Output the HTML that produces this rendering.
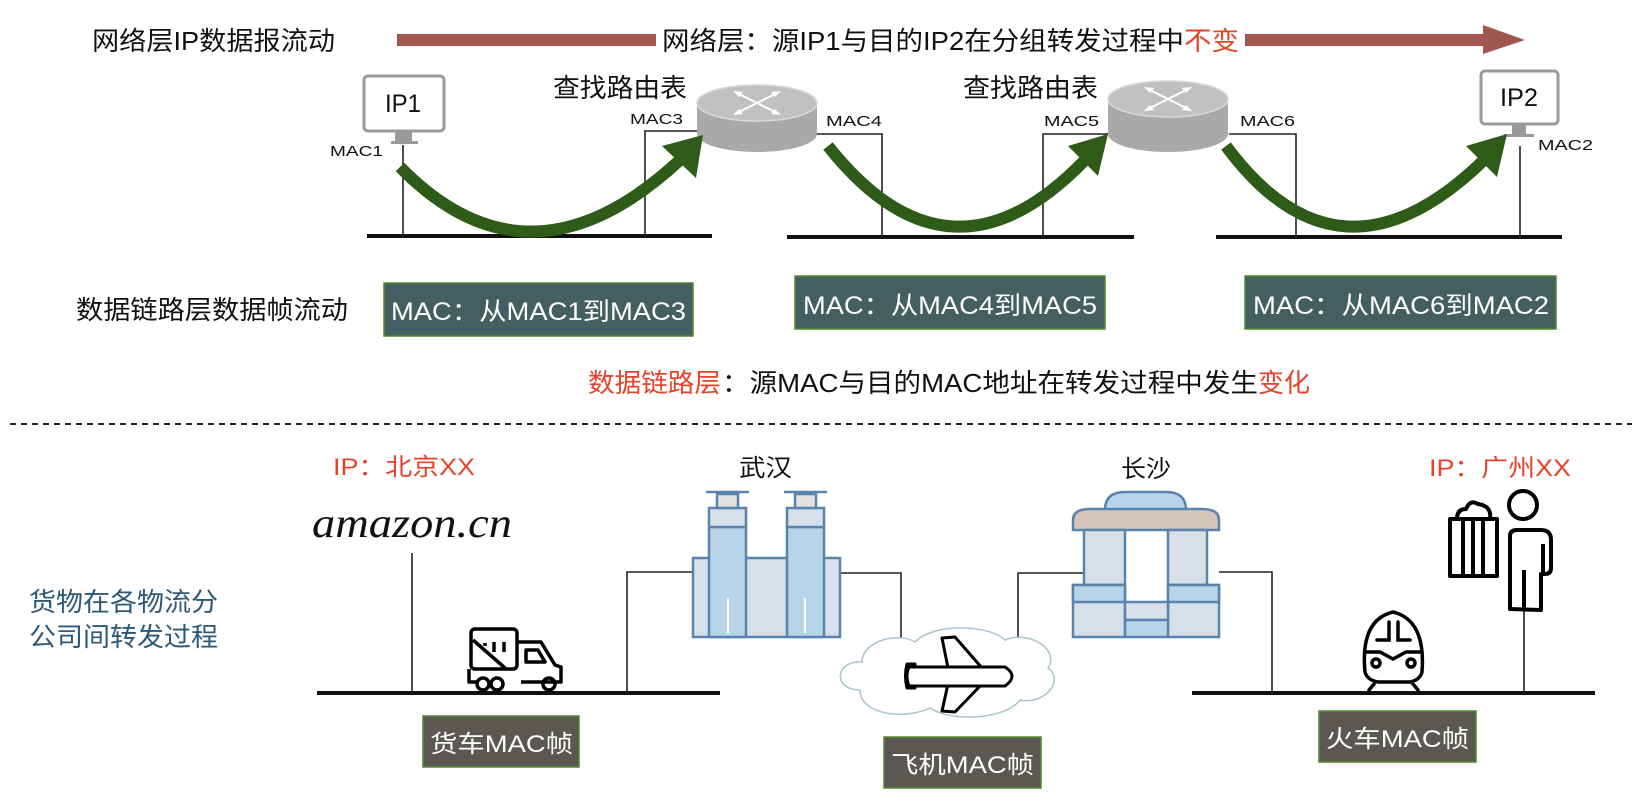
<!DOCTYPE html>
<html><head><meta charset="utf-8"><style>
html,body{margin:0;padding:0;background:#fff;}
svg{display:block;}
text{font-family:"Liberation Sans","Noto Sans CJK SC",sans-serif;}
</style></head><body>
<svg width="1638" height="808" viewBox="0 0 1638 808" xmlns="http://www.w3.org/2000/svg">
<!-- top title -->
<text x="92" y="50" font-size="26" textLength="243" lengthAdjust="spacingAndGlyphs" fill="#111">网络层IP数据报流动</text>
<rect x="397" y="34" width="259" height="12" fill="#a0574f"/>
<text x="662" y="50" font-size="26" textLength="522" lengthAdjust="spacingAndGlyphs" fill="#111">网络层：源IP1与目的IP2在分组转发过程中</text>
<text x="1184" y="50" font-size="26" textLength="55" lengthAdjust="spacingAndGlyphs" fill="#e8432a">不变</text>
<rect x="1245" y="34" width="240" height="12" fill="#a0574f"/>
<polygon points="1483,25 1525,40 1483,54" fill="#a0574f"/>

<!-- buses -->
<g stroke="#111" stroke-width="4">
<line x1="367" y1="236" x2="712" y2="236"/>
<line x1="787" y1="237" x2="1134" y2="237"/>
<line x1="1216" y1="237" x2="1562" y2="237"/>
</g>
<g stroke="#222" stroke-width="1.6" fill="none">
<line x1="403" y1="145" x2="403" y2="236"/>
<polyline points="698,131 645,131 645,236"/>
<polyline points="817,134 882,134 882,237"/>
<polyline points="1108,134 1043,134 1043,237"/>
<polyline points="1229,134 1296,134 1296,237"/>
<line x1="1520" y1="146" x2="1520" y2="237"/>
</g>

<!-- IP1 monitor -->
<rect x="364" y="76" width="80" height="55" rx="4" fill="#fff" stroke="#9a9a9a" stroke-width="3"/>
<rect x="395" y="131" width="17" height="11" fill="#9a9a9a"/>
<rect x="391" y="141" width="27" height="3" fill="#9a9a9a"/>
<text x="385" y="112" font-size="25" textLength="36" lengthAdjust="spacingAndGlyphs" fill="#111">IP1</text>
<text x="330" y="156" font-size="15" textLength="53" lengthAdjust="spacingAndGlyphs" fill="#111">MAC1</text>
<!-- IP2 monitor -->
<rect x="1481" y="71" width="77" height="53" rx="4" fill="#fff" stroke="#9a9a9a" stroke-width="3"/>
<rect x="1512" y="124" width="14" height="10" fill="#9a9a9a"/>
<rect x="1504" y="134" width="30" height="3" fill="#9a9a9a"/>
<text x="1500" y="106" font-size="25" textLength="38" lengthAdjust="spacingAndGlyphs" fill="#111">IP2</text>
<text x="1538" y="150" font-size="15" textLength="55" lengthAdjust="spacingAndGlyphs" fill="#111">MAC2</text>

<!-- routers -->
<g id="r1">
<path d="M697,103 L697,134 A60,18 0 0 0 817,134 L817,103 Z" fill="#a9a9a9"/>
<ellipse cx="757" cy="103" rx="60" ry="18" fill="#c0c0c0" stroke="#d8d8d8" stroke-width="1.5"/>
<g stroke="#fff" stroke-width="2"><line x1="737" y1="93" x2="777" y2="113"/><line x1="777" y1="93" x2="737" y2="113"/></g>
<g fill="#fff"><polygon points="733,91 743,92 739,97"/><polygon points="781,91 771,92 775,97"/><polygon points="733,115 743,114 739,109"/><polygon points="781,115 771,114 775,109"/></g>
</g>
<g transform="translate(411,-4)">
<path d="M697,103 L697,138 A60,18 0 0 0 817,138 L817,103 Z" fill="#a9a9a9"/>
<ellipse cx="757" cy="103" rx="60" ry="18" fill="#c0c0c0" stroke="#d8d8d8" stroke-width="1.5"/>
<g stroke="#fff" stroke-width="2"><line x1="737" y1="93" x2="777" y2="113"/><line x1="777" y1="93" x2="737" y2="113"/></g>
<g fill="#fff"><polygon points="733,91 743,92 739,97"/><polygon points="781,91 771,92 775,97"/><polygon points="733,115 743,114 739,109"/><polygon points="781,115 771,114 775,109"/></g>
</g>
<text x="553" y="97" font-size="26" textLength="134" lengthAdjust="spacingAndGlyphs" fill="#111">查找路由表</text>
<text x="963" y="97" font-size="26" textLength="135" lengthAdjust="spacingAndGlyphs" fill="#111">查找路由表</text>
<g font-size="15" fill="#111">
<text x="630" y="124" textLength="53" lengthAdjust="spacingAndGlyphs">MAC3</text>
<text x="826" y="126" textLength="56" lengthAdjust="spacingAndGlyphs">MAC4</text>
<text x="1044" y="126" textLength="55" lengthAdjust="spacingAndGlyphs">MAC5</text>
<text x="1240" y="126" textLength="55" lengthAdjust="spacingAndGlyphs">MAC6</text>
</g>

<!-- green arrows -->
<g fill="none" stroke="#2e5b18" stroke-width="12">
<path d="M400,167 Q530,300 681,159"/>
<path d="M828,146 Q950,300 1085,160"/>
<path d="M1226,146 Q1340,300 1484,160"/>
</g>
<g fill="#2e5b18">
<polygon points="703,135 662,146 696,178"/>
<polygon points="1108,134 1068,146 1098,176"/>
<polygon points="1507,134 1466,146 1497,177"/>
</g>

<!-- MAC boxes -->
<g fill="#435f61" stroke="#4f8a2c" stroke-width="1.5">
<rect x="384" y="283" width="309" height="53"/>
<rect x="795" y="276" width="310" height="53"/>
<rect x="1245" y="276" width="311" height="53"/>
</g>
<g fill="#fff" font-size="25">
<text x="391" y="320" textLength="295" lengthAdjust="spacingAndGlyphs">MAC：从MAC1到MAC3</text>
<text x="803" y="314" textLength="294" lengthAdjust="spacingAndGlyphs">MAC：从MAC4到MAC5</text>
<text x="1253" y="314" textLength="296" lengthAdjust="spacingAndGlyphs">MAC：从MAC6到MAC2</text>
</g>
<text x="76" y="319" font-size="26" textLength="272" lengthAdjust="spacingAndGlyphs" fill="#111">数据链路层数据帧流动</text>
<text x="588" y="392" font-size="26" textLength="133" lengthAdjust="spacingAndGlyphs" fill="#e8432a">数据链路层</text>
<text x="722" y="392" font-size="26" textLength="536" lengthAdjust="spacingAndGlyphs" fill="#111">：源MAC与目的MAC地址在转发过程中发生</text>
<text x="1258" y="392" font-size="26" textLength="52" lengthAdjust="spacingAndGlyphs" fill="#e8432a">变化</text>

<!-- dashed divider -->
<line x1="10" y1="424" x2="1632" y2="424" stroke="#222" stroke-width="2" stroke-dasharray="6 5"/>

<!-- bottom labels -->
<text x="333" y="475" font-size="24" textLength="142" lengthAdjust="spacingAndGlyphs" fill="#e8432a">IP：北京XX</text>
<text x="739" y="476" font-size="24" textLength="53" lengthAdjust="spacingAndGlyphs" fill="#111">武汉</text>
<text x="1121" y="477" font-size="24" textLength="50" lengthAdjust="spacingAndGlyphs" fill="#111">长沙</text>
<text x="1429" y="476" font-size="24" textLength="142" lengthAdjust="spacingAndGlyphs" fill="#e8432a">IP：广州XX</text>
<text x="312" y="537" font-size="42" font-style="italic" textLength="200" lengthAdjust="spacingAndGlyphs" fill="#111" style="font-family:'Liberation Serif',serif">amazon.cn</text>
<text x="29" y="611" font-size="26" textLength="189" lengthAdjust="spacingAndGlyphs" fill="#2d5878">货物在各物流分</text>
<text x="29" y="646" font-size="26" textLength="189" lengthAdjust="spacingAndGlyphs" fill="#2d5878">公司间转发过程</text>

<!-- bottom buses and lines -->
<g stroke="#111" stroke-width="4">
<line x1="317" y1="693" x2="720" y2="693"/>
<line x1="1192" y1="693" x2="1595" y2="693"/>
</g>
<g stroke="#222" stroke-width="1.6" fill="none">
<line x1="412" y1="553" x2="412" y2="693"/>
<polyline points="693,572 627,572 627,693"/>
<polyline points="840,573 901,573 901,638"/>
<polyline points="1084,573 1018,573 1018,640"/>
<polyline points="1219,572 1272,572 1272,693"/>
<line x1="1524" y1="610" x2="1524" y2="693"/>
</g>

<!-- Wuhan building -->
<g stroke="#5b84ad" stroke-width="2.5">
<rect x="693" y="558" width="147" height="79" fill="#d7e0e8"/>
<rect x="709" y="527" width="37" height="110" fill="#b8d4e8"/>
<rect x="787" y="527" width="37" height="110" fill="#b8d4e8"/>
<rect x="709" y="508" width="37" height="19" fill="#d7e0e8"/>
<rect x="787" y="508" width="37" height="19" fill="#d7e0e8"/>
<rect x="717" y="494" width="21" height="14" fill="#e2e2e2"/>
<rect x="795" y="494" width="21" height="14" fill="#e2e2e2"/>
<line x1="706" y1="492" x2="749" y2="492"/>
<line x1="784" y1="492" x2="827" y2="492"/>
</g>
<g stroke="#fff" stroke-width="2"><line x1="728" y1="598" x2="728" y2="633"/><line x1="805" y1="598" x2="805" y2="633"/></g>

<!-- Changsha building -->
<g stroke="#5b84ad" stroke-width="2.5">
<path d="M1105,510 Q1105,492 1125,492 L1166,492 Q1186,492 1186,510 Z" fill="#b8d4e8"/>
<path d="M1073,530 L1073,520 Q1073,509 1090,509 L1202,509 Q1219,509 1219,520 L1219,530 Z" fill="#d5c4b8"/>
<rect x="1084" y="530" width="41" height="55" fill="#d7e0e8"/>
<rect x="1168" y="530" width="39" height="55" fill="#d7e0e8"/>
<rect x="1073" y="585" width="52" height="52" fill="#d7e0e8"/>
<rect x="1168" y="585" width="51" height="52" fill="#d7e0e8"/>
<rect x="1073" y="585" width="52" height="17" fill="#b8d4e8"/>
<rect x="1168" y="585" width="51" height="17" fill="#b8d4e8"/>
<rect x="1125" y="602" width="43" height="18" fill="#d7e0e8"/>
<rect x="1125" y="620" width="43" height="17" fill="#b8d4e8"/>
</g>

<!-- cloud -->
<path d="M860,690 C832,690 835,660 862,662 C862,640 900,632 915,642 C935,622 990,625 1005,640 C1030,630 1060,650 1048,668 C1065,680 1045,705 1020,700 C1005,720 950,722 930,708 C905,720 860,715 860,690 Z" fill="#fff" stroke="#a9c4cc" stroke-width="1.5"/>
<!-- plane -->
<g fill="#fff" stroke="#000" stroke-width="3" stroke-linejoin="round">
<path d="M948,668 L942,638 L955,637 L982,668 Z"/>
<path d="M948,684 L942,711 L955,712 L982,684 Z"/>
<path d="M915,664 L907,664 Q904,676 907,688 L915,688 Z"/>
<path d="M909,667 L1005,667 Q1019,676 1005,686 L909,686 Q905,676 909,667 Z"/>
</g>

<!-- truck -->
<g fill="none" stroke="#000" stroke-width="3.5" stroke-linejoin="round">
<rect x="471" y="629" width="46" height="40" rx="4"/>
<line x1="473" y1="640" x2="505" y2="668"/>
<line x1="485" y1="643" x2="485" y2="646"/><line x1="494" y1="642" x2="494" y2="652"/><line x1="504" y1="642" x2="504" y2="652"/>
<path d="M518,642 L541,642 L555,665 L561,667 L561,682 L521,682"/>
<path d="M526,650 L538,650 L545,662 L526,662 Z"/>
<path d="M469,669 L469,682 L477,682"/>
<circle cx="483" cy="684" r="6"/><circle cx="497" cy="684" r="6"/><circle cx="549" cy="684" r="6"/>
</g>

<!-- train -->
<g fill="none" stroke="#000" stroke-width="3.5" stroke-linecap="round">
<path d="M1365,672 Q1360,620 1393,612 Q1426,620 1422,672 Q1420,680 1410,682 L1378,682 Q1367,680 1365,672 Z"/>
<path d="M1377,640 L1389,640 L1389,622 M1410,640 L1398,640 L1398,622"/>
<path d="M1365,652 L1380,652 L1393,659 L1406,652 L1422,652"/>
<circle cx="1376" cy="663" r="4"/><circle cx="1411" cy="663" r="4"/>
<path d="M1374,684 L1369,690 M1413,684 L1418,690"/>
</g>

<!-- suitcase + person -->
<g fill="none" stroke="#000" stroke-width="4" stroke-linejoin="round">
<rect x="1450" y="519" width="47" height="57"/>
<line x1="1463" y1="521" x2="1463" y2="574"/><line x1="1473" y1="521" x2="1473" y2="574"/><line x1="1483" y1="521" x2="1483" y2="574"/>
<path d="M1457,519 Q1457,509 1466,509 Q1470,499 1478,504 Q1492,506 1490,519"/>
<circle cx="1523" cy="505" r="14"/>
<path d="M1510,609 L1510,536 Q1510,530 1517,530 L1541,530 Q1551,530 1551,540 L1551,568 Q1551,574 1545,574 L1541,574 L1541,610 Z"/>
<line x1="1543" y1="544" x2="1543" y2="572"/>
<line x1="1524" y1="570" x2="1524" y2="608"/>
</g>

<!-- frame boxes -->
<g fill="#5b5852" stroke="#4f8a2c" stroke-width="1.5">
<rect x="423" y="716" width="156" height="51"/>
<rect x="884" y="737" width="157" height="51"/>
<rect x="1319" y="711" width="157" height="51"/>
</g>
<g fill="#fff" font-size="24">
<text x="430" y="752" textLength="143" lengthAdjust="spacingAndGlyphs">货车MAC帧</text>
<text x="891" y="773" textLength="143" lengthAdjust="spacingAndGlyphs">飞机MAC帧</text>
<text x="1326" y="747" textLength="143" lengthAdjust="spacingAndGlyphs">火车MAC帧</text>
</g>
</svg>
</body></html>
